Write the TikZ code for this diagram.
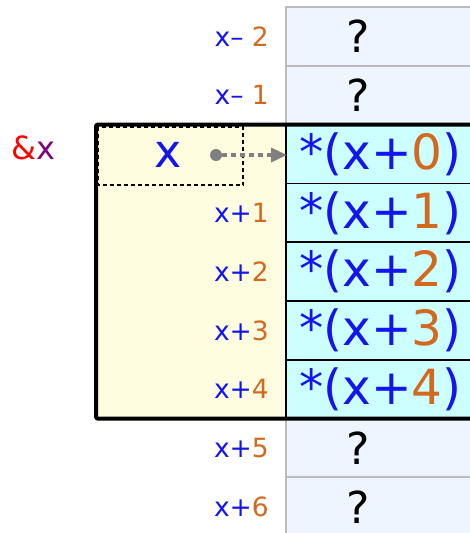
\documentclass[tikz,border=0pt]{standalone}
\usepackage{fontspec}
\setmainfont{DejaVu Sans}
\usetikzlibrary{arrows.meta}
\definecolor{orng}{HTML}{D2691E}
\definecolor{cyanc}{HTML}{CCFFFF}
\definecolor{greyc}{HTML}{EEF5FE}
\definecolor{greyb}{HTML}{BBBBBB}
\definecolor{yel}{HTML}{FFFDE0}
\definecolor{bl}{HTML}{1414F0}
\definecolor{purp}{HTML}{800080}
\definecolor{arrg}{HTML}{808080}
\begin{document}
\begin{tikzpicture}[x=1pt,y=-1pt,
  greycell/.style={draw=greyb, line width=2pt, fill=greyc, minimum width=194pt, minimum height=58.8pt, inner sep=0pt},
  cyancell/.style={draw=black, line width=1.8pt, fill=cyanc, minimum width=194pt, minimum height=58.8pt, inner sep=0pt},
  lbl/.style={anchor=east, text=bl, font=\fontsize{26.5}{26.5}\selectfont, inner sep=0pt},
  qm/.style={font=\fontsize{44}{44}\selectfont, inner sep=0pt},
  deref/.style={anchor=west, text=bl, font=\fontsize{48.5}{48.5}\selectfont, inner sep=0pt}]
\useasboundingbox (0,0) rectangle (470,533);
\clip (0,0) rectangle (470,533);
% grey cells
\foreach \k/\t in {0/x{\textendash} \textcolor{orng}{2},1/x{\textendash} \textcolor{orng}{1},7/x+\textcolor{orng}{5},8/x+\textcolor{orng}{6}}{
  \node[greycell] (g\k) at (383,{36.4+58.8*\k}) {};
  \node[qm] (q\k) at (358,{36.4+58.8*\k}) {?};
  \node[lbl] (l\k) at (269,{36.4+58.8*\k}) {\t};
}
% yellow area
\fill[yel] (96,124.6) rectangle (286,418.6);
% cyan cells
\foreach \k in {0,...,4}{
  \node[cyancell] (c\k) at (383,{154+58.8*\k}) {};
  \node[deref] (d\k) at (299,{154+58.8*\k}) {*(x+\textcolor{orng}{\k})};
}
\foreach \k in {1,...,4}{
  \node[lbl] (m\k) at (269,{154+58.8*\k}) {x+\textcolor{orng}{\k}};
}
\draw[black, line width=1.8pt] (286,124.6) -- (286,418.6);
% dashed variable box
\draw[black, line width=2pt, dash pattern=on 4pt off 3pt] (98,126.5) rectangle (243,185);
\draw[black, line width=4pt, rounded corners=2pt] (96,124.6) rectangle (480,418.6);
% variable x
\node[text=bl, font=\fontsize{46}{46}\selectfont, inner sep=0pt] (var) at (168,155) {x};
\node[circle, fill=arrg, minimum size=12pt, inner sep=0pt] (dot) at (216,155) {};
\coordinate (tgt) at (287,155);
\draw[arrg, line width=3.5pt, dash pattern=on 5pt off 4pt, -{Triangle[length=16pt,width=14pt]}] (dot) -- (tgt);
% &x
\node[font=\fontsize{32}{32}\selectfont, inner sep=0pt] (amp) at (33,148) {\textcolor{red}{\&}\textcolor{purp}{x}};
\end{tikzpicture}
\end{document}
